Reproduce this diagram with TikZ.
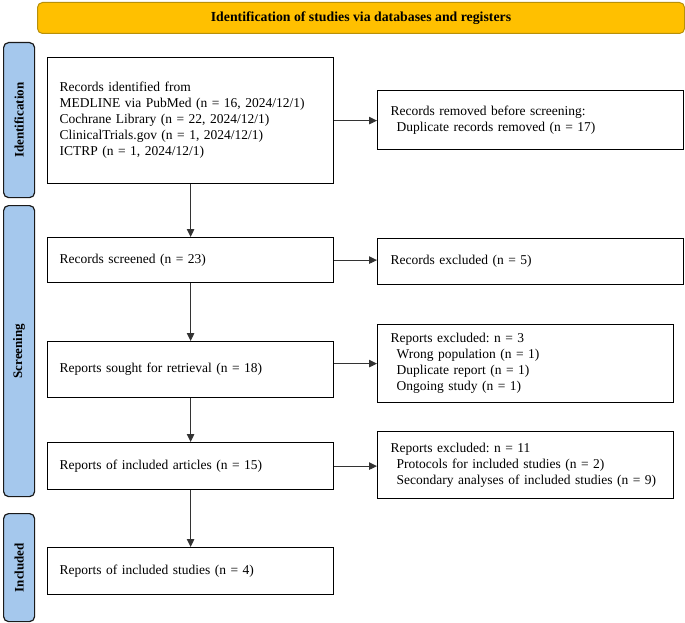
\documentclass[tikz,border=0pt]{standalone}
\usepackage{fontspec}
\setmainfont{Liberation Serif}
\usetikzlibrary{arrows.meta,calc}
\definecolor{bannerfill}{HTML}{FFC000}
\definecolor{bannerdraw}{HTML}{B8900A}
\definecolor{sidefill}{HTML}{A5C8ED}
\definecolor{sidedraw}{HTML}{1A1A1A}
\frenchspacing
\begin{document}
\begin{tikzpicture}[x=1pt,y=-1pt,
  box/.style={draw=black,line width=1.2pt,rectangle,anchor=north west,align=left,
    inner xsep=0pt,inner ysep=0pt,font=\fontsize{13.5}{16}\selectfont},
  sidebox/.style={draw=sidedraw,fill=sidefill,line width=1.2pt,rounded corners=5pt,anchor=north west,inner sep=0pt},
  sidetext/.style={rotate=90,font=\bfseries\fontsize{13}{16}\selectfont},
  arr/.style={-{Triangle[length=8pt,width=7.5pt]},line width=0.9pt,draw=black!80}
]
\useasboundingbox (0,0) rectangle (685,623);
% banner
\node[draw=bannerdraw,fill=bannerfill,line width=1pt,rounded corners=5pt,anchor=north west,
  minimum width=647pt,minimum height=31pt,inner sep=0pt,font=\bfseries\fontsize{13.8}{16}\selectfont]
  (banner) at (37,2) {Identification of studies via databases and registers};
% side labels
\node[sidebox,minimum width=31pt,minimum height=155pt] (sid) at (3,42) {};
\node[sidetext] (sidt) at (sid.center) {Identification};
\node[sidebox,minimum width=31pt,minimum height=291pt] (ssc) at (3,205) {};
\node[sidetext] (ssct) at (ssc.center) {Screening};
\node[sidebox,minimum width=31pt,minimum height=108pt] (sin) at (3,513) {};
\node[sidetext] (sint) at (sin.center) {Included};
% boxes
\node[box,minimum width=286pt,minimum height=126pt,text width=262pt,inner xsep=12pt] (b1) at (47,57)
  {Records identified from\\MEDLINE via PubMed (n = 16, 2024/12/1)\\Cochrane Library (n = 22, 2024/12/1)\\ClinicalTrials.gov (n = 1, 2024/12/1)\\ICTRP (n = 1, 2024/12/1)};
\node[box,minimum width=306pt,minimum height=59pt,text width=280pt,inner xsep=13pt] (rm) at (377,90)
  {Records removed before screening:\\\hspace*{6pt}Duplicate records removed (n = 17)};
\node[box,minimum width=286pt,minimum height=45pt,text width=262pt,inner xsep=12pt] (scr) at (47,237)
  {Records screened (n = 23)};
\node[box,minimum width=306pt,minimum height=46pt,text width=280pt,inner xsep=13pt] (exc) at (377,238)
  {Records excluded (n = 5)};
\node[box,minimum width=286pt,minimum height=56pt,text width=262pt,inner xsep=12pt] (sou) at (47,341)
  {Reports sought for retrieval (n = 18)};
\node[box,minimum width=296pt,minimum height=78pt,text width=270pt,inner xsep=13pt] (ex3) at (377,324)
  {Reports excluded: n = 3\\\hspace*{6pt}Wrong population (n = 1)\\\hspace*{6pt}Duplicate report (n = 1)\\\hspace*{6pt}Ongoing study (n = 1)};
\node[box,minimum width=286pt,minimum height=47pt,text width=262pt,inner xsep=12pt] (art) at (47,442)
  {Reports of included articles (n = 15)};
\node[box,minimum width=296pt,minimum height=67pt,text width=270pt,inner xsep=13pt] (ex11) at (377,431)
  {Reports excluded: n = 11\\\hspace*{6pt}Protocols for included studies (n = 2)\\\hspace*{6pt}Secondary analyses of included studies (n = 9)};
\node[box,minimum width=286pt,minimum height=47pt,text width=262pt,inner xsep=12pt] (stu) at (47,547)
  {Reports of included studies (n = 4)};
% arrows
\draw[arr] (b1.south) -- (scr.north);
\draw[arr] (scr.south) -- (sou.north);
\draw[arr] (sou.south) -- (art.north);
\draw[arr] (art.south) -- (stu.north);
\draw[arr] (b1.east) -- (b1.east -| rm.west);
\draw[arr] (scr.east) -- (scr.east -| exc.west);
\draw[arr] (sou.east |- ex3.west) -- (ex3.west);
\draw[arr] (art.east) -- (art.east -| ex11.west);
\end{tikzpicture}
\end{document}
